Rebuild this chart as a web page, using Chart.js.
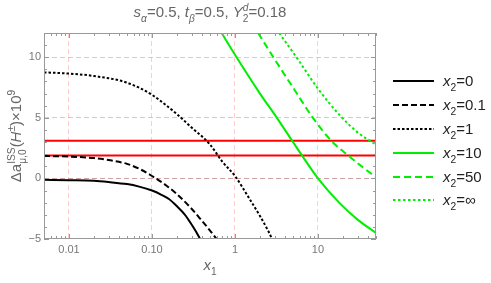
<!DOCTYPE html>
<html>
<head>
<meta charset="utf-8">
<script src="https://cdn.jsdelivr.net/npm/chart.js@4.4.1/dist/chart.umd.min.js"></script>
<style>
html, body { margin: 0; padding: 0; background: #fff; }
</style>
</head>
<body>
<canvas id="chart" width="491" height="283"></canvas>
<script>
// axis setup
const xRange = [0.005, 50];
const yRange = [-5, 12];
const xTicks = [0.01, 0.1, 1, 10];
const xTickLabels = ["0.01", "0.10", "1", "10"];
const yTicks = [-5, 0, 5, 10];

// horizontal red band edges
const redLevels = [3.1, 1.9];

// curves
const x2_0_x = [0.005, 0.01, 0.02, 0.03, 0.05, 0.07, 0.1, 0.13, 0.16, 0.2, 0.25, 0.3, 0.34, 0.38];
const x2_0_y = [-0.12, -0.15, -0.2, -0.3, -0.47, -0.68, -1.0, -1.35, -1.7, -2.3, -3.0, -3.8, -4.4, -5.0];

const x2_01_x = [0.005, 0.01, 0.02, 0.03, 0.05, 0.07, 0.1, 0.15, 0.2, 0.3, 0.4, 0.5, 0.6];
const x2_01_y = [1.85, 1.8, 1.68, 1.52, 1.2, 0.8, 0.2, -0.6, -1.3, -2.5, -3.5, -4.3, -5.0];

const x2_1_x = [0.005, 0.01, 0.02, 0.05, 0.1, 0.15, 0.2, 0.3, 0.5, 0.7, 1, 1.5, 2, 2.5, 2.8];
const x2_1_y = [8.75, 8.65, 8.45, 7.9, 6.9, 6.0, 5.3, 4.2, 2.8, 1.4, 0.2, -1.7, -3.1, -4.3, -5.0];

const x2_10_x = [0.69, 1, 2, 3.2, 5, 6.4, 10, 18, 30, 50];
const x2_10_y = [12, 10.2, 7.0, 5.0, 3.0, 1.9, 0, -2.0, -3.4, -4.5];

const x2_50_x = [1.9, 2.9, 5, 8.7, 14.5, 23, 35, 50];
const x2_50_y = [12, 10, 7.5, 5.0, 3.1, 1.9, 0.9, 0.1];

const x2_inf_x = [3.4, 5.5, 10, 18.4, 30, 50];
const x2_inf_y = [12, 10, 7.4, 5.2, 3.8, 2.8];

const seriesNames = ["0", "0.1", "1", "10", "50", "\u221e"];

const FONT = '"Liberation Sans", Arial, sans-serif';

function pts(xs, ys) {
    return xs.map((x, i) => ({ x: x, y: ys[i] }));
}

function curve(name, xs, ys, color, dash) {
    return {
        label: name,
        data: pts(xs, ys),
        borderColor: color,
        borderWidth: 2,
        borderDash: dash,
        pointRadius: 0,
        cubicInterpolationMode: 'monotone',
        fill: false,
        clip: 0
    };
}

const datasets = [
    curve(seriesNames[0], x2_0_x, x2_0_y, '#000', []),
    curve(seriesNames[1], x2_01_x, x2_01_y, '#000', [6, 3]),
    curve(seriesNames[2], x2_1_x, x2_1_y, '#000', [2.5, 2]),
    curve(seriesNames[3], x2_10_x, x2_10_y, '#00ee00', []),
    curve(seriesNames[4], x2_50_x, x2_50_y, '#00ee00', [7, 4]),
    curve(seriesNames[5], x2_inf_x, x2_inf_y, '#00ee00', [2.5, 2.5])
];
redLevels.forEach(function(v) {
    datasets.push({
        label: 'band',
        data: [{ x: xRange[0], y: v }, { x: xRange[1], y: v }],
        borderColor: '#ff0000',
        borderWidth: 2,
        pointRadius: 0,
        clip: 0
    });
});

// rich text: parts {t, i: italic, s: 'sub'|'sup', stack: next part shares x}
function drawRich(ctx, parts, x, y, size, align, color) {
    let cur = 0, stackW = 0;
    const items = [];
    parts.forEach(function(p) {
        const sz = p.s ? size * 0.68 : size;
        ctx.font = (p.i ? 'italic ' : '') + sz + 'px ' + FONT;
        const w = ctx.measureText(p.t).width;
        items.push({ p: p, sz: sz, x: cur });
        if (p.stack) {
            stackW = w;
        } else {
            cur += Math.max(w, stackW);
            stackW = 0;
        }
    });
    const x0 = align === 'center' ? x - cur / 2 : x;
    ctx.fillStyle = color;
    ctx.textBaseline = 'alphabetic';
    ctx.textAlign = 'left';
    items.forEach(function(it) {
        ctx.font = (it.p.i ? 'italic ' : '') + it.sz + 'px ' + FONT;
        let dy = 0;
        if (it.p.s === 'sub') dy = size * 0.3;
        if (it.p.s === 'sup') dy = -size * 0.42;
        ctx.fillText(it.p.t, x0 + it.x, y + dy);
    });
}

const decor = {
    id: 'decor',
    afterDraw(chart) {
        const ctx = chart.ctx;
        const a = chart.chartArea;
        const xs = chart.scales.x, ys = chart.scales.y;
        ctx.save();
        // frame
        ctx.strokeStyle = '#999';
        ctx.lineWidth = 1;
        ctx.setLineDash([]);
        ctx.strokeRect(a.left + 0.5, a.top + 0.5, a.right - a.left - 1, a.bottom - a.top - 1);
        // inward ticks
        ctx.beginPath();
        for (let v = yRange[0]; v <= yRange[1]; v++) {
            const py = Math.round(ys.getPixelForValue(v)) + 0.5;
            const len = v % 5 === 0 ? 5 : 3;
            ctx.moveTo(a.left, py); ctx.lineTo(a.left + len, py);
            ctx.moveTo(a.right, py); ctx.lineTo(a.right - len, py);
        }
        for (let d = -3; d <= 1; d++) {
            for (let m = 1; m <= 9; m++) {
                const v = m * Math.pow(10, d);
                if (v < xRange[0] || v > xRange[1]) continue;
                const px = Math.round(xs.getPixelForValue(v)) + 0.5;
                const len = m === 1 ? 5 : 3;
                ctx.moveTo(px, a.bottom); ctx.lineTo(px, a.bottom - len);
                ctx.moveTo(px, a.top); ctx.lineTo(px, a.top + len);
            }
        }
        ctx.stroke();

        // title
        drawRich(ctx, [
            { t: 's', i: true }, { t: '\u03b1', i: true, s: 'sub' }, { t: '=0.5, ' },
            { t: 't', i: true }, { t: '\u03b2', i: true, s: 'sub' }, { t: '=0.5, ' },
            { t: 'Y', i: true }, { t: 'd', i: true, s: 'sup', stack: true }, { t: '2', s: 'sub' },
            { t: '=0.18' }
        ], (a.left + a.right) / 2, 17, 15, 'center', '#666');

        // x axis title
        drawRich(ctx, [{ t: 'x', i: true }, { t: '1', s: 'sub' }],
            (a.left + a.right) / 2, 270, 15, 'center', '#666');

        // y axis title
        ctx.save();
        ctx.translate(21, (a.top + a.bottom) / 2);
        ctx.rotate(-Math.PI / 2);
        drawRich(ctx, [
            { t: '\u0394a' }, { t: 'ISS', s: 'sup', stack: true }, { t: '\u03bc,0', s: 'sub' },
            { t: '(' }, { t: 'H', i: true }, { t: '\u00b1', s: 'sup' }, { t: ')\u00d710' },
            { t: '9', s: 'sup' }
        ], 0, 0, 15, 'center', '#666');
        ctx.restore();

        // legend
        const rows = [81, 105, 129, 153, 177, 200];
        for (let i = 0; i < 6; i++) {
            const ds = chart.data.datasets[i];
            ctx.strokeStyle = ds.borderColor;
            ctx.lineWidth = 2;
            ctx.setLineDash(ds.borderDash);
            ctx.beginPath();
            ctx.moveTo(393, rows[i]);
            ctx.lineTo(434, rows[i]);
            ctx.stroke();
            ctx.setLineDash([]);
            drawRich(ctx, [{ t: 'x', i: true }, { t: '2', s: 'sub' }, { t: '=' + ds.label }],
                443, rows[i] + 5, 15, 'left', '#222');
        }
        ctx.restore();
    }
};

new Chart(document.getElementById('chart'), {
    type: 'line',
    data: { datasets: datasets },
    options: {
        responsive: false,
        animation: false,
        events: [],
        layout: { padding: { top: 33, right: 115, left: 0, bottom: 0 } },
        plugins: { legend: { display: false }, tooltip: { enabled: false } },
        scales: {
            x: {
                type: 'logarithmic',
                min: xRange[0],
                max: xRange[1],
                afterBuildTicks: function(s) { s.ticks = xTicks.map(v => ({ value: v })); },
                afterFit: function(s) { s.height = 44; },
                ticks: {
                    autoSkip: false,
                    maxRotation: 0,
                    padding: 4,
                    color: '#777',
                    font: { size: 11, family: FONT },
                    callback: function(v, i) { return xTickLabels[i]; }
                },
                grid: { color: 'rgba(255,160,160,0.55)', lineWidth: 1, drawTicks: false },
                border: { display: false, dash: [5, 3] }
            },
            y: {
                type: 'linear',
                min: yRange[0],
                max: yRange[1],
                afterBuildTicks: function(s) { s.ticks = yTicks.map(v => ({ value: v })); },
                afterFit: function(s) { s.width = 44; },
                ticks: {
                    padding: 3,
                    color: '#777',
                    font: { size: 11, family: FONT },
                    callback: function(v) { return v < 0 ? '\u2212' + Math.abs(v) : String(v); }
                },
                grid: {
                    color: function(c) {
                        if (c.tick.value === 0) return 'rgba(190,140,140,0.8)';
                        if (c.tick.value === yRange[0]) return 'rgba(0,0,0,0)';
                        return 'rgba(255,140,140,0.6)';
                    },
                    lineWidth: 1,
                    drawTicks: false
                },
                border: { display: false, dash: [5, 3] }
            }
        }
    },
    plugins: [decor]
});
</script>
</body>
</html>
